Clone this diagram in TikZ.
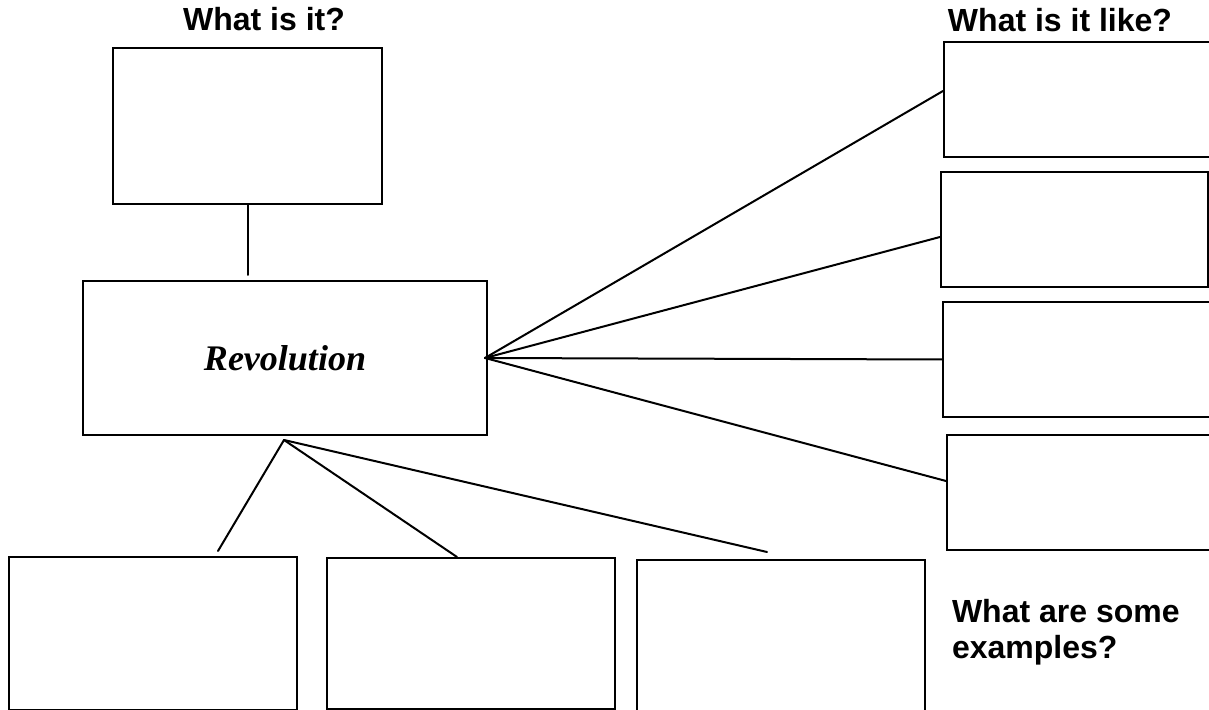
\documentclass[tikz,border=0pt]{standalone}
\usepackage{fontspec}
\setmainfont{Liberation Serif}
\setsansfont{Liberation Sans}
\begin{document}
\begin{tikzpicture}[x=0.5pt,y=-0.5pt,line width=1pt,cap=round,
	box/.style={draw, anchor=north west, inner sep=0pt},
	ask/.style={font=\sffamily\bfseries\fontsize{16}{18}\selectfont}]
	\useasboundingbox (0,0) rectangle (1209,710);

	\node [ask, anchor=base] (q what) at (264,31) {What is it?};
	\node [ask, anchor=base] (q like) at (1060,32) {What is it like?};
	\node [ask, anchor=north west, align=left, inner sep=0pt] (q ex) at (951,598) {What are some\\examples?};

	\node [box, minimum width=134.5pt, minimum height=78pt] (what) at (112,47) {};
	\node [box, minimum width=202pt, minimum height=77pt,
		font=\bfseries\itshape\fontsize{18}{18}\selectfont] (rev) at (82,280) {Revolution};

	\node [box, minimum width=140pt, minimum height=57.5pt] (like1) at (943,41) {};
	\node [box, minimum width=133.5pt, minimum height=57.5pt] (like2) at (940,171) {};
	\node [box, minimum width=140pt, minimum height=57.5pt] (like3) at (942,301) {};
	\node [box, minimum width=140pt, minimum height=57.5pt] (like4) at (946,434) {};

	\node [box, minimum width=144pt, minimum height=76.5pt] (ex1) at (8,556) {};
	\node [box, minimum width=144pt, minimum height=75.5pt] (ex2) at (326,557) {};
	\node [box, minimum width=144pt, minimum height=78pt] (ex3) at (636,559) {};

	\coordinate (stem top) at (248,205);
	\coordinate (stem bot) at (248,275);
	\draw (stem top) -- (stem bot);

	\coordinate (hub r) at (485,358);
	\draw (hub r) -- ([yshift=4.25pt]like1.west);
	\draw (hub r) -- ([yshift=-3.75pt]like2.west);
	\draw (hub r) -- (like3.west);
	\draw (hub r) -- ([yshift=5.75pt]like4.west);

	\coordinate (hub b) at (284,440);
	\coordinate (ex1 end) at (218,551);
	\coordinate (ex3 end) at (767,552);
	\draw (hub b) -- (ex1 end);
	\draw (hub b) -- ([xshift=65.5pt]ex2.north west);
	\draw (hub b) -- (ex3 end);
\end{tikzpicture}
\end{document}
